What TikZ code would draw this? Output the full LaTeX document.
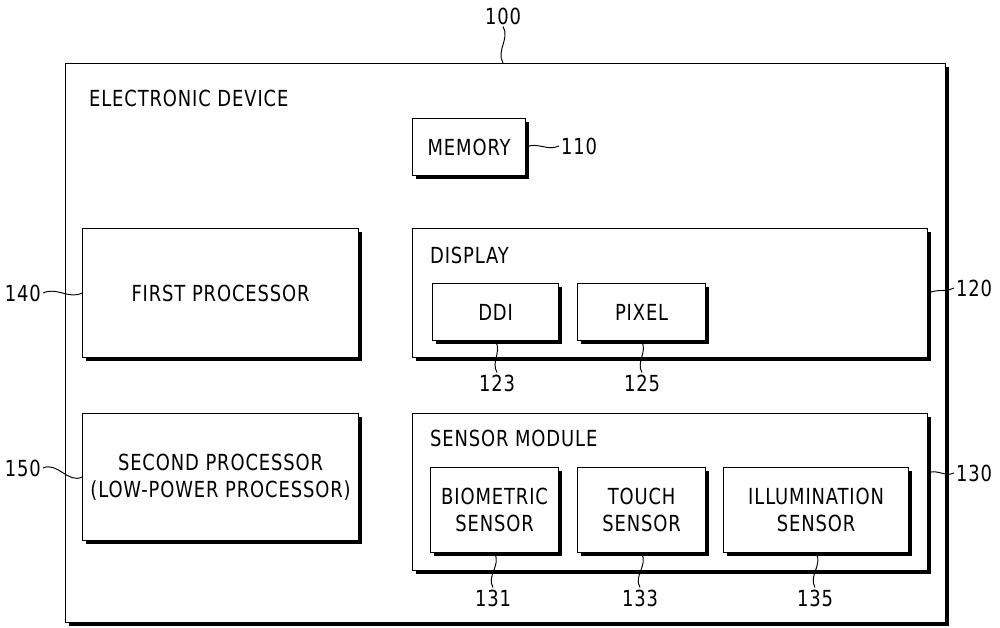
\documentclass[tikz,border=0pt]{standalone}
\usepackage{fontspec}
\setmainfont{DejaVu Sans Condensed}[FakeStretch=0.9, LetterSpace=4]
\usepackage{tikz}
\usetikzlibrary{shadows}
\usetikzlibrary{positioning}
\tikzset{
  letra/.style={font=\fontsize{12.6}{15}\selectfont},
  bloco/.style 2 args={draw, line width=0.7pt, fill=white, align=center, letra,
    minimum width=#1, minimum height=#2, anchor=north west, inner sep=0pt,
    drop shadow={opacity=1, fill=black, shadow xshift=1.8pt, shadow yshift=-1.8pt}},
  rotulo/.style={letra, inner sep=1pt},
  guia/.style={line width=0.55pt},
}

\begin{document}
\begin{tikzpicture}[x=0.02cm, y=-0.02cm]
  \useasboundingbox (0,0) rectangle (1000,628);

  % caixa externa
  \node[bloco={17.6cm}{11.18cm}] (dev) at (65,63) {};
  \node[rotulo, anchor=west] (tdev) at (87,98) {ELECTRONIC DEVICE};

  % memoria e processadores
  \node[bloco={2.26cm}{1.14cm}] (mem) at (412,118) {MEMORY};
  \node[bloco={5.52cm}{2.58cm}] (cpu1) at (82,228) {FIRST PROCESSOR};
  \node[bloco={5.52cm}{2.54cm}] (cpu2) at (82,413) {SECOND PROCESSOR\\(LOW-POWER PROCESSOR)};

  % display
  \node[bloco={10.3cm}{2.58cm}] (disp) at (412,228) {};
  \node[rotulo, anchor=west] (tdisp) at (428,255) {DISPLAY};
  \node[bloco={2.52cm}{1.14cm}] (ddi) at (432,283) {DDI};
  \node[bloco={2.56cm}{1.14cm}] (pix) at (577,283) {PIXEL};

  % modulo de sensores
  \node[bloco={10.3cm}{3.14cm}] (sens) at (412,413) {};
  \node[rotulo, anchor=west] (tsens) at (428,438) {SENSOR MODULE};
  \node[bloco={2.56cm}{1.7cm}] (bio) at (430,467) {BIOMETRIC\\SENSOR};
  \node[bloco={2.56cm}{1.7cm}] (tch) at (577,467) {TOUCH\\SENSOR};
  \node[bloco={3.7cm}{1.7cm}] (ilu) at (723,467) {ILLUMINATION\\SENSOR};

  % numeros de referencia
  \node[rotulo] (n100) at (503,16) {100};
  \node[rotulo, anchor=west] (n110) at (559,146) {110};
  \node[rotulo, anchor=east] (n140) at (43,293) {140};
  \node[rotulo, anchor=east] (n150) at (43,468) {150};
  \node[rotulo, anchor=west] (n120) at (954,288) {120};
  \node[rotulo, anchor=west] (n130) at (954,473) {130};
  \node[rotulo] (n123) at (497,383) {123};
  \node[rotulo] (n125) at (642,383) {125};
  \node[rotulo] (n131) at (493,598) {131};
  \node[rotulo] (n133) at (640,598) {133};
  \node[rotulo] (n135) at (815,598) {135};

  % linhas de chamada
  \draw[guia] (n100.south) to[out=-60, in=120] (n100.south |- dev.north);
  \draw[guia] (mem.east) to[out=25, in=205] (n110.west);
  \draw[guia] (n140.east) to[out=25, in=205] (cpu1.west);
  \draw[guia] (n150.east) to[out=25, in=205] (cpu2.west);
  \draw[guia] (disp.east) to[out=25, in=205] (n120.west);
  \draw[guia] (sens.east |- n130) to[out=25, in=205] (n130.west);
  \draw[guia] (ddi.south) to[out=-60, in=120] (n123.north);
  \draw[guia] (pix.south) to[out=-60, in=120] (n125.north);
  \draw[guia] (bio.south) to[out=-60, in=120] (n131.north);
  \draw[guia] (tch.south) to[out=-60, in=120] (n133.north);
  \draw[guia] (ilu.south) to[out=-60, in=120] (n135.north);
\end{tikzpicture}
\end{document}
